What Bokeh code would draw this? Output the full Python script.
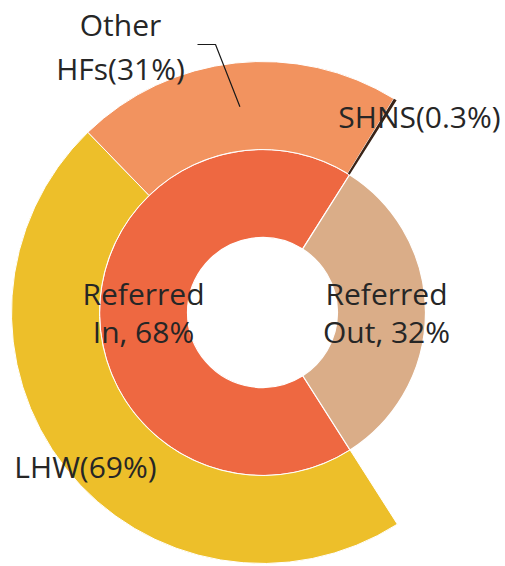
import numpy as np
from bokeh.plotting import figure
from bokeh.models import Range1d
from bokeh.core.properties import value
from bokeh.embed import file_html
from bokeh.resources import INLINE

# ---- data ----
inner_names = ["Referred In", "Referred Out"]
inner_values = [68, 32]            # % of all referrals
outer_names = ["LHW", "Other HFs", "SHNS"]
outer_values = [69, 31, 0.3]       # % of Referred In

# ---- layout / style ----
W, H = 505, 566
CX, CY = 262, 254
R_HOLE, R_MID, R_OUT = 75, 163, 251
FIRST_ANGLE = 147.5                # degrees, clockwise from 12 o'clock
inner_colors = ["#EE6841", "#DAAD88"]
outer_colors = ["#EDBF2A", "#F2935F", "#3A2418"]
FONT = value("Open Sans")
FS = "30px"
TXT = "#262626"


def rad(theta):
    return np.deg2rad(90.0 - np.asarray(theta, dtype=float))


def polar(theta, r):
    t = np.deg2rad(theta)
    return CX + r * np.sin(t), CY + r * np.cos(t)


p = figure(width=W, height=H, x_range=Range1d(0, W), y_range=Range1d(0, H),
           output_backend="svg", toolbar_location=None, min_border=0)
p.axis.visible = False
p.grid.visible = False
p.outline_line_color = None
p.background_fill_color = "white"
p.border_fill_color = "white"

# inner ring
in_deg = np.array(inner_values, float) / sum(inner_values) * 360.0
in_end = FIRST_ANGLE + np.cumsum(in_deg)
in_start = in_end - in_deg
p.annular_wedge(x=CX, y=CY, inner_radius=R_HOLE, outer_radius=R_MID,
                start_angle=rad(in_start), end_angle=rad(in_end), direction="clock",
                fill_color=inner_colors, line_color="white", line_width=1.2)

# outer ring (breakdown of Referred In)
out_deg = np.array(outer_values, float) / sum(outer_values) * in_deg[0]
out_end = FIRST_ANGLE + np.cumsum(out_deg)
out_start = out_end - out_deg
p.annular_wedge(x=CX, y=CY, inner_radius=R_MID, outer_radius=R_OUT,
                start_angle=rad(out_start), end_angle=rad(out_end), direction="clock",
                fill_color=outer_colors, line_color=["white", "white", None],
                line_width=1.0)

# inner labels
in_mid = (in_start + in_end) / 2
in_r = [(R_HOLE + R_MID) / 2, (R_HOLE + R_MID) / 2 + 5]
for name, v, th, r in zip(inner_names, inner_values, in_mid, in_r):
    a, b = name.split(" ", 1)
    x, y = polar(th, r)
    p.text(x=[x], y=[y], text=[f"{a}\n{b}, {v}%"], text_font=FONT, text_font_size=FS,
           text_color=TXT, text_align="center", text_baseline="middle",
           text_line_height=0.93)

# outer labels (placed like the source, offsets from the centre)
label_offsets = {"LHW": (-177, -154), "Other HFs": (-142, 266), "SHNS": (157, 196)}
out_mid = (out_start + out_end) / 2
for name, v in zip(outer_names, outer_values):
    vs = f"{v:g}"
    txt = f"{name}({vs}%)" if name != "Other HFs" else f"Other\nHFs({vs}%)"
    dx, dy = label_offsets[name]
    p.text(x=[CX + dx], y=[CY + dy], text=[txt], text_font=FONT, text_font_size=FS,
           text_color=TXT, text_align="center", text_baseline="middle",
           text_line_height=1.08)

# leader line for Other HFs
dx, dy = label_offsets["Other HFs"]
ex, ey = polar(out_mid[1], (R_MID + R_OUT) / 2)
lx0, ly0 = CX + dx + 77, CY + 268
p.line(x=[lx0, lx0 + 18, ex], y=[ly0, ly0, ey], line_color="#1a1a1a", line_width=1.2)

open("out.html", "w").write(file_html(p, INLINE))
